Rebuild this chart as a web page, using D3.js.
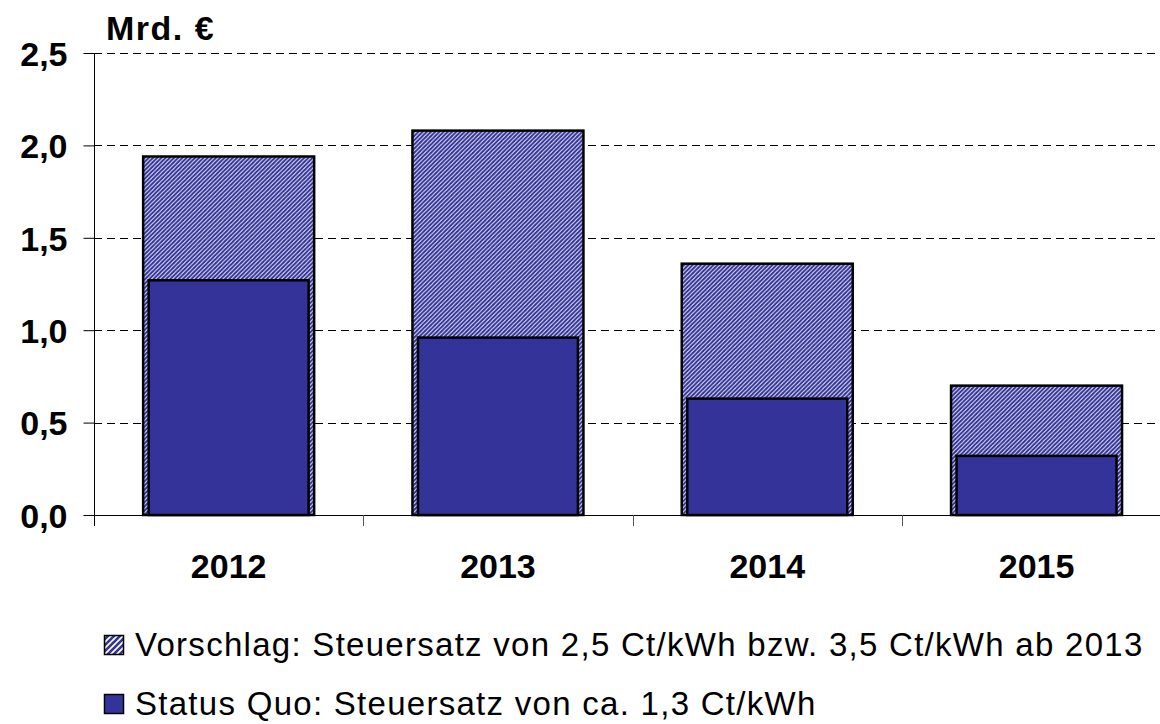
<!DOCTYPE html>
<html>
<head>
<meta charset="utf-8">
<script src="https://cdn.jsdelivr.net/npm/d3@7"></script>
<style>
  html, body { margin: 0; padding: 0; background: #fff; }
  svg { display: block; font-family: "Liberation Sans", Arial, sans-serif; }
</style>
</head>
<body>
<svg id="chart" width="1160" height="724"></svg>
<script>
const categories = ["2012", "2013", "2014", "2015"];
const vorschlag = [1.94, 2.08, 1.36, 0.70];
const statusQuo = [1.27, 0.96, 0.63, 0.32];
const yTicks = [0, 0.5, 1.0, 1.5, 2.0, 2.5];
const yTickLabels = ["0,0", "0,5", "1,0", "1,5", "2,0", "2,5"];
const unitLabel = "Mrd. €";
const legendLabels = [
  "Vorschlag: Steuersatz von 2,5 Ct/kWh bzw. 3,5 Ct/kWh ab 2013",
  "Status Quo: Steuersatz von ca. 1,3 Ct/kWh"
];

const blue = "#333399";
const svg = d3.select("#chart");

const x0 = 94, x1 = 94 + 4 * 269.3;
const yTop = 53, yBottom = 515;

const x = d3.scaleBand().domain(categories).range([x0, x1]).padding(0);
const y = d3.scaleLinear().domain([0, 2.5]).range([yBottom, yTop]);

// patterns
const defs = svg.append("defs");
const pat = defs.append("pattern")
  .attr("id", "hatch").attr("patternUnits", "userSpaceOnUse")
  .attr("width", 4.2).attr("height", 4.2);
pat.append("rect").attr("width", 4.2).attr("height", 4.2).attr("fill", "#fff");
pat.append("path").attr("d", "M-1.05,1.05 L1.05,-1.05 M0,4.2 L4.2,0 M3.15,5.25 L5.25,3.15")
  .attr("stroke", blue).attr("stroke-width", 2.1);

const pat2 = defs.append("pattern")
  .attr("id", "hatchLegend").attr("patternUnits", "userSpaceOnUse")
  .attr("width", 6).attr("height", 6);
pat2.append("rect").attr("width", 6).attr("height", 6).attr("fill", "#fff");
pat2.append("path").attr("d", "M-1.5,1.5 L1.5,-1.5 M0,6 L6,0 M4.5,7.5 L7.5,4.5")
  .attr("stroke", blue).attr("stroke-width", 2.6);

// gridlines
svg.append("g").selectAll("line")
  .data(yTicks.filter(d => d > 0))
  .join("line")
  .attr("x1", x0).attr("x2", 1160)
  .attr("y1", d => Math.round(y(d)) + 0.5).attr("y2", d => Math.round(y(d)) + 0.5)
  .attr("stroke", "#000").attr("stroke-width", 1)
  .attr("stroke-dasharray", "8,5");

// y axis
const yAxis = d3.axisLeft(y).tickValues(yTicks)
  .tickFormat((d, i) => yTickLabels[i]).tickSize(11).tickPadding(16);
const gy = svg.append("g").attr("transform", `translate(${x0 + 0.5},0)`).call(yAxis);
gy.select(".domain").attr("d", `M0,${yTop}V${yBottom + 11}`).attr("stroke", "#000");
gy.selectAll(".tick line").attr("stroke", "#000");
gy.selectAll(".tick text")
  .attr("font-family", "Liberation Sans, Arial, sans-serif")
  .attr("font-size", 34).attr("font-weight", "bold").attr("fill", "#000")
  .attr("dy", "0.36em");

// x axis (boundary ticks)
const xBounds = categories.map(c => x(c)).concat([x1]);
svg.append("line")
  .attr("x1", x0).attr("x2", 1160)
  .attr("y1", yBottom + 0.5).attr("y2", yBottom + 0.5)
  .attr("stroke", "#000");
svg.append("g").selectAll("line").data(xBounds.slice(1))
  .join("line")
  .attr("x1", d => Math.round(d) + 0.5).attr("x2", d => Math.round(d) + 0.5)
  .attr("y1", yBottom).attr("y2", yBottom + 11)
  .attr("stroke", "#555");

svg.append("g").selectAll("text").data(categories)
  .join("text")
  .attr("x", d => x(d) + x.bandwidth() / 2)
  .attr("y", 578)
  .attr("text-anchor", "middle")
  .attr("font-size", 34).attr("font-weight", "bold")
  .text(d => d);

// bars
const outerW = x.bandwidth() * 0.635;
const innerW = x.bandwidth() * 0.594;
svg.append("g").selectAll("rect").data(categories)
  .join("rect")
  .attr("x", (d) => x(d) + (x.bandwidth() - outerW) / 2)
  .attr("width", outerW)
  .attr("y", (d, i) => y(vorschlag[i]))
  .attr("height", (d, i) => y(0) - y(vorschlag[i]))
  .attr("fill", "url(#hatch)")
  .attr("stroke", "#000").attr("stroke-width", 2.5);

svg.append("g").selectAll("rect").data(categories)
  .join("rect")
  .attr("x", (d) => x(d) + (x.bandwidth() - innerW) / 2)
  .attr("width", innerW)
  .attr("y", (d, i) => y(statusQuo[i]))
  .attr("height", (d, i) => y(0) - y(statusQuo[i]))
  .attr("fill", blue)
  .attr("stroke", "#000").attr("stroke-width", 2.5);

// unit label
svg.append("text").attr("x", 106).attr("y", 40)
  .attr("font-size", 34).attr("font-weight", "bold")
  .attr("letter-spacing", 1.5).text(unitLabel);

// legend
const legendY = [656, 715];
const legendFill = ["url(#hatchLegend)", blue];
const lg = svg.append("g");
legendLabels.forEach((lab, i) => {
  lg.append("rect").attr("x", 104.5).attr("y", legendY[i] - 20.5)
    .attr("width", 19).attr("height", 19)
    .attr("fill", legendFill[i]).attr("stroke", "#000").attr("stroke-width", 1.5);
  lg.append("text").attr("x", 135).attr("y", legendY[i])
    .attr("font-size", 33).attr("fill", "#000")
    .attr("letter-spacing", 1.28).text(lab);
});
</script>
</body>
</html>
